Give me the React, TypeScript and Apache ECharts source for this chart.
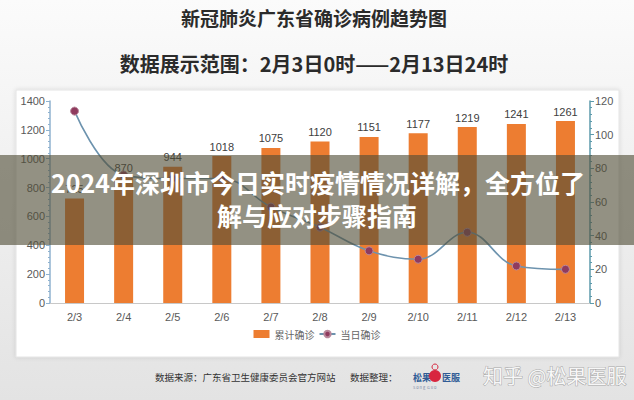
import React, { useEffect, useRef } from 'react';
import * as echarts from 'echarts';

const categories = ['2/3', '2/4', '2/5', '2/6', '2/7', '2/8', '2/9', '2/10', '2/11', '2/12', '2/13'];
const cumulative = [725, 870, 944, 1018, 1075, 1120, 1151, 1177, 1219, 1241, 1261];
const daily = [114, 76, 74, 74, 57, 45, 31, 26, 42, 22, 20];
const leftTicks = { min: 0, max: 1400, interval: 200 };
const rightTicks = { min: 0, max: 120, interval: 20 };
const seriesNames = ['累计确诊', '当日确诊'];
const title1 = '新冠肺炎广东省确诊病例趋势图';
const title2 = '数据展示范围：2月3日0时——2月13日24时';
const bannerLines = ['2024年深圳市今日实时疫情情况详解，全方位了', '解与应对步骤指南'];
const footerSource = '数据来源：广东省卫生健康委员会官方网站';
const footerEditor = '数据整理：';
const watermark = '知乎 @松果医服';

const CJK = '"Noto Sans CJK SC", "Noto Sans", sans-serif';
const NUM = '"Liberation Sans", sans-serif';

export default function App() {
  const ref = useRef<HTMLDivElement>(null);
  useEffect(() => {
    document.body.style.margin = '0';
    const chart = echarts.init(ref.current!, null, { renderer: 'svg' });
    const option: any = {
      animation: false,
      backgroundColor: {
        type: 'linear', x: 0, y: 0, x2: 0, y2: 1,
        colorStops: [
          { offset: 0, color: '#fbfbfb' },
          { offset: 1, color: '#e3e3e3' },
        ],
      },
      textStyle: { fontFamily: CJK },
      grid: { left: 50, right: 44, top: 101, bottom: 97 },
      legend: {
        bottom: 56,
        left: 'center',
        itemGap: 4,
        itemWidth: 16,
        itemHeight: 8,
        textStyle: { fontSize: 10, color: '#666', fontFamily: CJK },
        data: [
          { name: seriesNames[0], icon: 'rect' },
          { name: seriesNames[1] },
        ],
      },
      xAxis: {
        type: 'category',
        data: categories,
        axisLine: { lineStyle: { color: '#c8c8c8' } },
        axisTick: { lineStyle: { color: '#c8c8c8' } },
        axisLabel: { color: '#595959', fontSize: 11, margin: 8, fontFamily: NUM },
      },
      yAxis: [
        {
          type: 'value',
          ...leftTicks,
          splitLine: { show: false },
          axisLine: { show: true, lineStyle: { color: '#8fb2cf', width: 1.5 } },
          axisTick: { show: true, length: 4, lineStyle: { color: '#8fb2cf' } },
          minorTick: { show: true, splitNumber: 5, length: 2, lineStyle: { color: '#8fb2cf' } },
          axisLabel: { color: '#595959', fontSize: 11, margin: 5, fontFamily: NUM, formatter: (v: number) => String(v) },
        },
        {
          type: 'value',
          ...rightTicks,
          position: 'right',
          splitLine: { show: false },
          axisLine: { show: true, lineStyle: { color: '#5c9aab', width: 1.5 } },
          axisTick: { show: true, length: 4, lineStyle: { color: '#5c9aab' } },
          minorTick: { show: true, splitNumber: 5, length: 2, lineStyle: { color: '#5c9aab' } },
          axisLabel: { color: '#595959', fontSize: 11, margin: 5, fontFamily: NUM, formatter: (v: number) => String(v) },
        },
      ],
      series: [
        {
          name: seriesNames[0],
          type: 'bar',
          data: cumulative,
          barWidth: 19,
          itemStyle: { color: '#ed7d31' },
          label: { show: true, position: 'top', color: '#404040', fontSize: 11, distance: 4, fontFamily: NUM },
        },
        {
          name: seriesNames[1],
          type: 'line',
          yAxisIndex: 1,
          data: daily,
          smooth: 0.4,
          symbol: 'circle',
          symbolSize: 8,
          lineStyle: { color: '#6d93ae', width: 1.6 },
          itemStyle: { color: '#8f3b5e', borderColor: '#b9889c', borderWidth: 1 },
          z: 3,
        },
      ],
      graphic: [
        {
          type: 'rect', z: -5,
          shape: { x: 16, y: 90, width: 603, height: 267 },
          style: { fill: '#ffffff', stroke: '#e4e4e4', lineWidth: 1, shadowBlur: 4, shadowColor: 'rgba(0,0,0,0.12)' },
        },
        {
          type: 'text', z: 10, x: 314, y: 17,
          style: { text: title1, font: `bold 19px ${CJK}`, fill: '#2b2b2b', textAlign: 'center', textVerticalAlign: 'middle' },
        },
        {
          type: 'text', z: 10, x: 314, y: 63,
          style: { text: title2, font: `bold 20px ${CJK}`, fill: '#2b2b2b', textAlign: 'center', textVerticalAlign: 'middle' },
        },
        {
          type: 'text', z: 10, x: 155, y: 377,
          style: { text: footerSource, font: `9.5px ${CJK}`, fill: '#333', textAlign: 'left', textVerticalAlign: 'middle' },
        },
        {
          type: 'text', z: 10, x: 350, y: 377,
          style: { text: footerEditor, font: `9.5px ${CJK}`, fill: '#333', textAlign: 'left', textVerticalAlign: 'middle' },
        },
        {
          type: 'text', z: 10, x: 413, y: 377,
          style: { text: '松果', font: `bold 9px ${CJK}`, fill: '#2f5b95', textAlign: 'left', textVerticalAlign: 'middle' },
        },
        {
          type: 'circle', z: 10,
          shape: { cx: 435, cy: 376, r: 6 },
          style: { fill: '#d8263e' },
        },
        {
          type: 'circle', z: 10,
          shape: { cx: 435, cy: 367, r: 3 },
          style: { fill: 'none', stroke: '#d8263e', lineWidth: 1 },
        },
        {
          type: 'text', z: 10, x: 442, y: 377,
          style: { text: '医服', font: `bold 9px ${CJK}`, fill: '#2f5b95', textAlign: 'left', textVerticalAlign: 'middle' },
        },
        {
          type: 'text', z: 10, x: 413, y: 387,
          style: { text: 'S o n g  G u o', font: `4px ${CJK}`, fill: '#7a8aa8', textAlign: 'left', textVerticalAlign: 'middle' },
        },
        {
          type: 'text', z: 10, x: 483, y: 375,
          style: { text: watermark, font: `20px ${CJK}`, fill: 'rgba(255,255,255,0.9)', stroke: '#a8a8a8', lineWidth: 1, textAlign: 'left', textVerticalAlign: 'middle' },
        },
        {
          type: 'rect', z: 100,
          shape: { x: 0, y: 155, width: 634, height: 90 },
          style: { fill: 'rgba(80,78,55,0.62)' },
        },
        {
          type: 'text', z: 101, x: 318, y: 182,
          style: { text: bannerLines[0], font: `bold 25px ${CJK}`, fill: '#ffffff', textAlign: 'center', textVerticalAlign: 'middle', shadowBlur: 3, shadowColor: 'rgba(40,35,20,0.6)' },
        },
        {
          type: 'text', z: 101, x: 317, y: 215,
          style: { text: bannerLines[1], font: `bold 25px ${CJK}`, fill: '#ffffff', textAlign: 'center', textVerticalAlign: 'middle', shadowBlur: 3, shadowColor: 'rgba(40,35,20,0.6)' },
        },
      ],
    };
    chart.setOption(option);
    return () => chart.dispose();
  }, []);
  return <div ref={ref} style={{ width: 634, height: 400 }} />;
}
